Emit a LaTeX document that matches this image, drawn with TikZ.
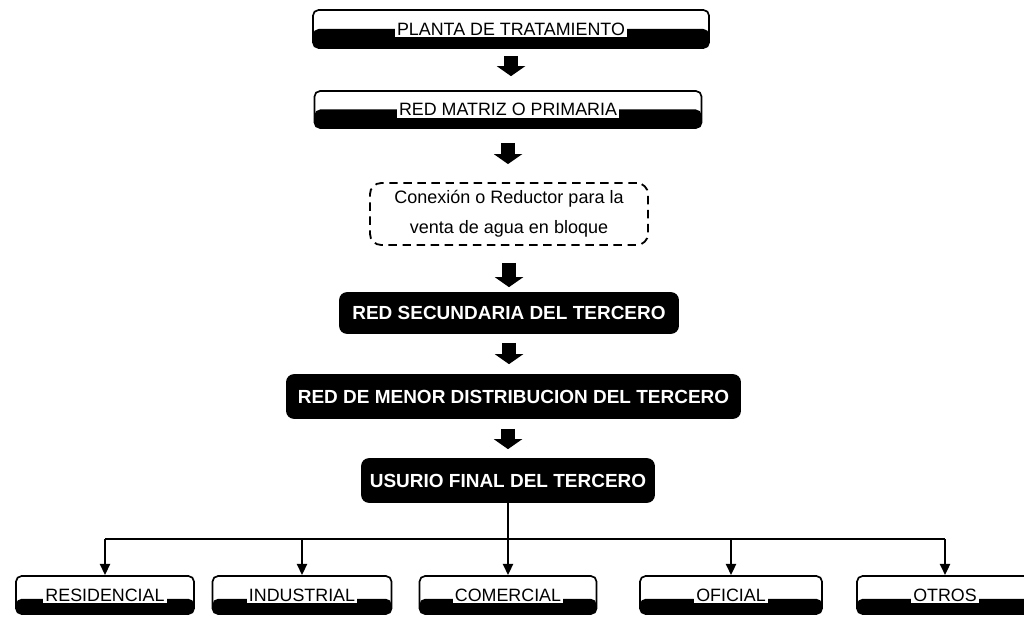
\documentclass[tikz,border=0pt]{standalone}
\usepackage{fontspec}
\setmainfont{Liberation Sans}
\usetikzlibrary{arrows.meta,calc}

\newcommand{\halo}[1]{{\setlength{\fboxsep}{1.5pt}\colorbox{white}{#1}}}

\tikzset{
    bandbox/.style={draw,line width=1.2pt,rounded corners=4pt,fill=white,
        inner sep=0pt,font=\fontsize{12.7}{14}\selectfont,
        path picture={\fill[black]
            ($(path picture bounding box.south west)!#1!(path picture bounding box.north west)$)
            rectangle (path picture bounding box.south east);}},
    bandbox/.default=0.5,
    darkbox/.style={draw,line width=1.2pt,rounded corners=5pt,fill=black,
        text=white,inner sep=0pt,font=\bfseries\fontsize{13.5}{15}\selectfont},
    dashbox/.style={draw,line width=1.3pt,dash pattern=on 6pt off 4pt,
        rounded corners=8pt,align=center,inner sep=0pt,
        font=\fontsize{12.8}{21}\selectfont},
    bigarrow/.style={line width=0.33cm,-{Triangle[width=0.7cm,length=0.25cm]}},
    tree/.style={line width=2pt}
}

\begin{document}
\begin{tikzpicture}[x=0.025cm,y=-0.025cm,>={Triangle[width=7pt,length=8pt]}]
    \useasboundingbox (0,0) rectangle (1024,617);

    % chain of boxes
    \node[bandbox=0.5,minimum width=9.9cm,minimum height=0.95cm] (planta) at (511,29)
        {\halo{PLANTA DE TRATAMIENTO}};
    \node[bandbox=0.5,minimum width=9.675cm,minimum height=0.925cm] (matriz) at (508,109.5)
        {\halo{RED MATRIZ O PRIMARIA}};
    \node[dashbox,minimum width=6.95cm,minimum height=1.55cm] (conexion) at (509,214)
        {Conexión o Reductor para la\\venta de agua en bloque};
    \node[darkbox,minimum width=8.45cm,minimum height=1.0cm] (secundaria) at (509,313)
        {RED SECUNDARIA DEL TERCERO};
    \node[darkbox,minimum width=11.325cm,minimum height=1.075cm] (menor) at (513.5,396.5)
        {RED DE MENOR DISTRIBUCION DEL TERCERO};
    \node[darkbox,minimum width=7.3cm,minimum height=1.075cm] (usuario) at (508,480.5)
        {USURIO FINAL DEL TERCERO};

    \draw[bigarrow,shorten <=0.175cm,shorten >=0.35cm] (planta.south) -- (planta.south |- matriz.north);
    \draw[bigarrow,shorten <=0.35cm,shorten >=0.45cm] (matriz.south) -- (matriz.south |- conexion.north);
    \draw[bigarrow,shorten <=0.425cm,shorten >=0.125cm] (conexion.south) -- (conexion.south |- secundaria.north);
    \draw[bigarrow,shorten <=0.225cm,shorten >=0.25cm] (secundaria.south) -- (secundaria.south |- menor.north);
    \draw[bigarrow,shorten <=0.25cm,shorten >=0.225cm] (menor.south -| usuario.north) -- (usuario.north);

    % final users
    \node[bandbox=0.4,minimum width=4.45cm,minimum height=0.95cm] (residencial) at (105,595)
        {\halo{RESIDENCIAL}};
    \node[bandbox=0.4,minimum width=4.475cm,minimum height=0.95cm] (industrial) at (302,595)
        {\halo{INDUSTRIAL}};
    \node[bandbox=0.4,minimum width=4.425cm,minimum height=0.95cm] (comercial) at (508,595)
        {\halo{COMERCIAL}};
    \node[bandbox=0.4,minimum width=4.55cm,minimum height=0.95cm] (oficial) at (731,595)
        {\halo{OFICIAL}};
    \node[bandbox=0.4,minimum width=4.4cm,minimum height=0.95cm] (otros) at (945,595)
        {\halo{OTROS}};

    \coordinate (J) at (508,539);
    \draw[tree] (usuario.south) -- (J);
    \draw[tree] (J -| residencial.north) -- (J -| otros.north);
    \draw[tree,->] (J -| residencial.north) -- (residencial.north);
    \draw[tree,->] (J -| industrial.north) -- (industrial.north);
    \draw[tree,->] (J) -- (comercial.north);
    \draw[tree,->] (J -| oficial.north) -- (oficial.north);
    \draw[tree,->] (J -| otros.north) -- (otros.north);
\end{tikzpicture}
\end{document}
